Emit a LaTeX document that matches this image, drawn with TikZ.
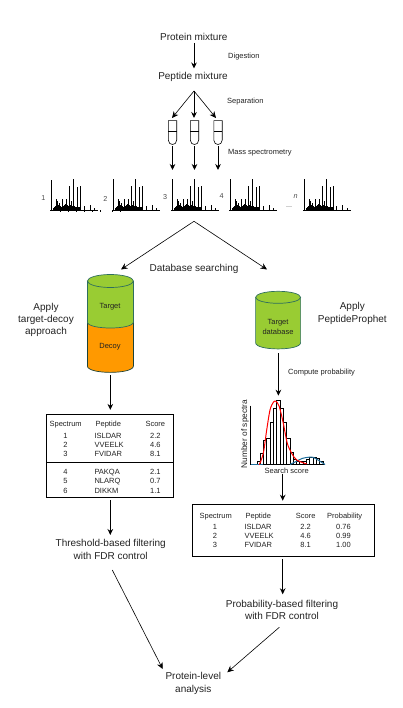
\documentclass[tikz,border=0pt]{standalone}
\usepackage{fontspec}
\setmainfont{Liberation Sans}
\usetikzlibrary{arrows.meta}
\definecolor{cylgreen}{HTML}{99CC33}
\definecolor{cylorange}{HTML}{FF9900}
\definecolor{cyledge}{HTML}{2E6E5E}
\definecolor{curveblue}{HTML}{1F6E9C}
\definecolor{txtgray}{HTML}{222222}
\tikzset{
  x=1pt,y=-1pt,
  arr/.style={draw=black,line width=0.9pt,-{Stealth[length=6pt,width=5.6pt]}},
  thinarr/.style={draw=black,line width=0.6pt,-{Stealth[length=6.5pt,width=6pt]}},
  big/.style={font=\fontsize{10}{12.2}\selectfont,align=center,inner sep=0pt,text=txtgray},
  small/.style={font=\fontsize{7.5}{9}\selectfont,inner sep=0pt,anchor=west,text=txtgray},
  cell/.style={font=\fontsize{7.5}{9}\selectfont,inner sep=0pt,text height=5.6pt,text depth=0pt,text=txtgray},
  cellL/.style={cell,anchor=west},
  num/.style={font=\fontsize{7.2}{9}\selectfont,inner sep=0pt,text=black!70},
  box/.style={draw=black,line width=0.8pt,inner sep=0pt},
  tubeanchor/.style={inner sep=0pt,minimum width=8pt,minimum height=23.4pt},
  tubeline/.style={draw=black,line width=0.6pt,fill=white},
  cyl/.style={draw=cyledge,line width=0.7pt},
  specline/.style={draw=black,line width=0.9pt}
}
\newcommand\myspec[2]{%
  \begin{scope}[shift={(#1,210.3)}]
    \draw[specline] (0,0) -- (0,-#2);
    \draw[specline] (-1,0) -- (47,0);
    \foreach \dx/\h in {2/2,3/3,4/4,5/11,6/9,7/5,8/7.5,9/4,10/3,11/11,12/4,13/5,14/6,15/11.5,16/5,17/4,18/24,19/5,20/9,21/4,22/31,23/4,24/3,25/3,26/23.5,27/3,28/3,29.3/24.3,32.7/4,38.7/5,43/2}
      \draw[line width=0.9pt] (\dx,0) -- (\dx,-\h);
  \end{scope}}
\newcommand\mytube[1]{%
  \draw[tubeline] (#1.north west) -- (#1.north east) -- ([yshift=4.4pt]#1.south east)
    .. controls ([yshift=1.4pt]#1.south east) and ([xshift=2pt]#1.south) .. (#1.south)
    .. controls ([xshift=-2pt]#1.south) and ([yshift=1.4pt]#1.south west) .. ([yshift=4.4pt]#1.south west) -- cycle;
  \draw[tubeline] ([yshift=-10.4pt]#1.north west) -- ([yshift=-10.4pt]#1.north east);}
\begin{document}
\begin{tikzpicture}
\useasboundingbox (0,0) rectangle (402,708);
% top flow
\node[big] (protein) at (193.8,37) {Protein mixture};
\node[big] (peptide) at (193,76.5) {Peptide mixture};
\node[small] (dig) at (228,56.3) {Digestion};
\node[small] (sep) at (227,101.3) {Separation};
\node[small] (ms) at (228,152.3) {Mass spectrometry};
\draw[arr,shorten <=2pt] (protein.south -| 194,0) -- (194,68.5);
\coordinate (split) at (194,91);
\node[tubeanchor] (t1) at (172.5,132.6) {};
\node[tubeanchor] (t2) at (194.5,132.6) {};
\node[tubeanchor] (t3) at (218,132.6) {};
\mytube{t1}\mytube{t2}\mytube{t3}
\draw[thinarr] (split) -- (172,118);
\draw[arr] (split) -- (194,118);
\draw[thinarr] (split) -- (216,118);
\coordinate (s1) at (172.5,170);
\coordinate (s2) at (194.5,170);
\coordinate (s3) at (218,170);
\draw[arr,shorten <=1.6pt] (t1.south) -- (s1);
\draw[arr,shorten <=1.6pt] (t2.south) -- (s2);
\draw[arr,shorten <=1.6pt] (t3.south) -- (s3);
% spectra
\myspec{51.3}{30}
\foreach \tx in {60,68,76,84,92,100,112,120}
  \draw[line width=0.6pt] (\tx,210.3) -- (\tx,212);
\myspec{113.3}{31}
\myspec{172.3}{31}
\myspec{230.3}{31}
\myspec{304}{31}
\node[num] (n1) at (43.3,198) {1};
\node[num] (n2) at (105.3,199) {2};
\node[num] (n3) at (165,197) {3};
\node[num] (n4) at (221.7,196.3) {4};
\node[num] (n5) at (295.5,197) {\itshape n};
\node[num] (dots) at (289,207.5) {...};
% database searching
\coordinate (apex) at (194,221.3);
\node[big] (dbs) at (194,269.3) {Database searching};
\coordinate (leftin) at (121,269.5);
\coordinate (rightin) at (267,269.5);
\draw[thinarr] (apex) -- (leftin);
\draw[thinarr] (apex) -- (rightin);
% left cylinder
\path[fill=cylorange] (87.4,322) -- (87.4,366) .. controls (87.4,374.5) and (133.4,374.5) .. (133.4,366) -- (133.4,322) -- cycle;
\draw[draw=cyledge!60!black,line width=0.7pt] (87.4,322) -- (87.4,366) .. controls (87.4,374.5) and (133.4,374.5) .. (133.4,366) -- (133.4,322);
\path[fill=cylgreen] (87.4,281) -- (87.4,322) .. controls (87.4,330) and (133.4,330) .. (133.4,322) -- (133.4,281) -- cycle;
\path[fill=cylgreen] (110.4,281) ellipse[x radius=23,y radius=6.5];
\draw[cyl] (110.4,281) ellipse[x radius=23,y radius=6.5];
\draw[cyl] (87.4,281) -- (87.4,322) .. controls (87.4,330) and (133.4,330) .. (133.4,322) -- (133.4,281);
\node[cell] (target) at (110,306) {Target};
\node[cell] (decoy) at (110,346) {Decoy};
\node[big] (applyl) at (46,319.7) {Apply\\target-decoy\\approach};
% right cylinder
\path[fill=cylgreen] (255.6,297.3) -- (255.6,342.7) .. controls (255.6,351) and (300.6,351) .. (300.6,342.7) -- (300.6,297.3) -- cycle;
\path[fill=cylgreen] (278.1,297.3) ellipse[x radius=22.5,y radius=6];
\draw[cyl] (278.1,297.3) ellipse[x radius=22.5,y radius=6];
\draw[cyl] (255.6,297.3) -- (255.6,342.7) .. controls (255.6,351) and (300.6,351) .. (300.6,342.7) -- (300.6,297.3);
\node[cell] (tdb1) at (278,321.5) {Target};
\node[cell] (tdb2) at (278,331.5) {database};
\node[big] (applyr) at (352.3,313.5) {Apply\\PeptideProphet};
\coordinate (lcylb) at (110.3,375);
\coordinate (rcylb) at (278.4,353.3);
% histogram
\node[small] (comp) at (288,372.3) {Compute probability};
\coordinate (histtop) at (278.4,395.7);
\draw[arr] (rcylb) -- (histtop);
\foreach \bx/\bh in {256.9/3,260.2/11,263.5/24,266.8/26,270.1/42,273.4/56,276.7/64,280/56,283.3/42,286.6/26,289.9/12,293.2/5,296.5/3,299.8/3,303.1/3,306.4/5,309.7/7,313/7,316.3/6,319.6/3}
  \draw[draw=black,line width=0.7pt,fill=white] (\bx,464.7) rectangle ++(3.3,-\bh);
\draw[line width=0.8pt] (250.6,405.7) -- (250.6,464.7) -- (325.3,464.7);
\draw[curveblue,line width=1pt] (250.6,464.3) -- (263,464.3);
\draw[curveblue,line width=1pt,smooth] plot coordinates {(290,464.5) (296,461.5) (302,458.5) (308,457.3) (313,457.3) (318,460) (325,464.5)};
\draw[red,line width=1pt,smooth] plot coordinates {(259.3,464.7) (263.3,453.3) (266.7,430) (270,410) (273.3,402.3) (276,401.3) (279.3,406.7) (283.3,423.3) (287.3,443.3) (291.7,453.3) (296.7,460) (306.7,464)};
\node[cell,rotate=90,font=\fontsize{8.3}{9}\selectfont] (nspec) at (244.3,434) {Number of spectra};
\node[cell] (sscore) at (286.7,470.3) {Search score};
% left table
\node[box,minimum width=127pt,minimum height=83pt] (ltab) at (110,455.8) {};
\draw[line width=0.8pt] (46.5,462.3) -- (173.5,462.3);
\node[cell] (lh1) at (65.7,423.3) {Spectrum};
\node[cell] (lh2) at (108.3,423.3) {Peptide};
\node[cell] (lh3) at (155.3,423.3) {Score};
\foreach \yy/\sp/\pe/\sc in {436/1/ISLDAR/2.2,445/2/VVEELK/4.6,454/3/FVIDAR/8.1,472/4/PAKQA/2.1,481/5/NLARQ/0.7,491/6/DIKKM/1.1}{
  \node[cell] at (65.5,\yy) {\sp};
  \node[cellL] at (94.3,\yy) {\pe};
  \node[cell] at (155.3,\yy) {\sc};
}
\draw[arr] (lcylb) -- ([yshift=4pt]ltab.north -| lcylb);
\node[big] (thresh) at (110.7,549.5) {Threshold-based filtering\\with FDR control};
\draw[arr,shorten <=2.7pt] (ltab.south -| lcylb) -- (110.3,535);
% right table
\node[box,minimum width=182.4pt,minimum height=52pt] (rtab) at (283.5,530.3) {};
\node[cell] (rh1) at (215.7,515.3) {Spectrum};
\node[cell] (rh2) at (258.3,515.3) {Peptide};
\node[cell] (rh3) at (305.7,515.3) {Score};
\node[cell] (rh4) at (344.7,515.3) {Probability};
\foreach \yy/\sp/\pe/\sc/\pr in {527/1/ISLDAR/2.2/0.76,536/2/VVEELK/4.6/0.99,545/3/FVIDAR/8.1/1.00}{
  \node[cell] at (215,\yy) {\sp};
  \node[cellL] at (244.3,\yy) {\pe};
  \node[cell] at (305.7,\yy) {\sc};
  \node[cell] at (343.5,\yy) {\pr};
}
\coordinate (rin) at (282.7,474);
\draw[arr] (rin) -- (282.7,500.7);
\draw[arr,shorten <=2.7pt] (rtab.south -| rin) -- (282.7,594.3);
\node[big] (prob) at (282,609.7) {Probability-based filtering\\with FDR control};
\node[big] (plevel) at (193.3,683.5) {Protein-level\\analysis};
\coordinate (thout) at (112.3,570);
\coordinate (prout) at (279.3,627.3);
\draw[thinarr] (thout) -- (162.7,669);
\draw[thinarr] (prout) -- (227.3,672.3);
\end{tikzpicture}
\end{document}
